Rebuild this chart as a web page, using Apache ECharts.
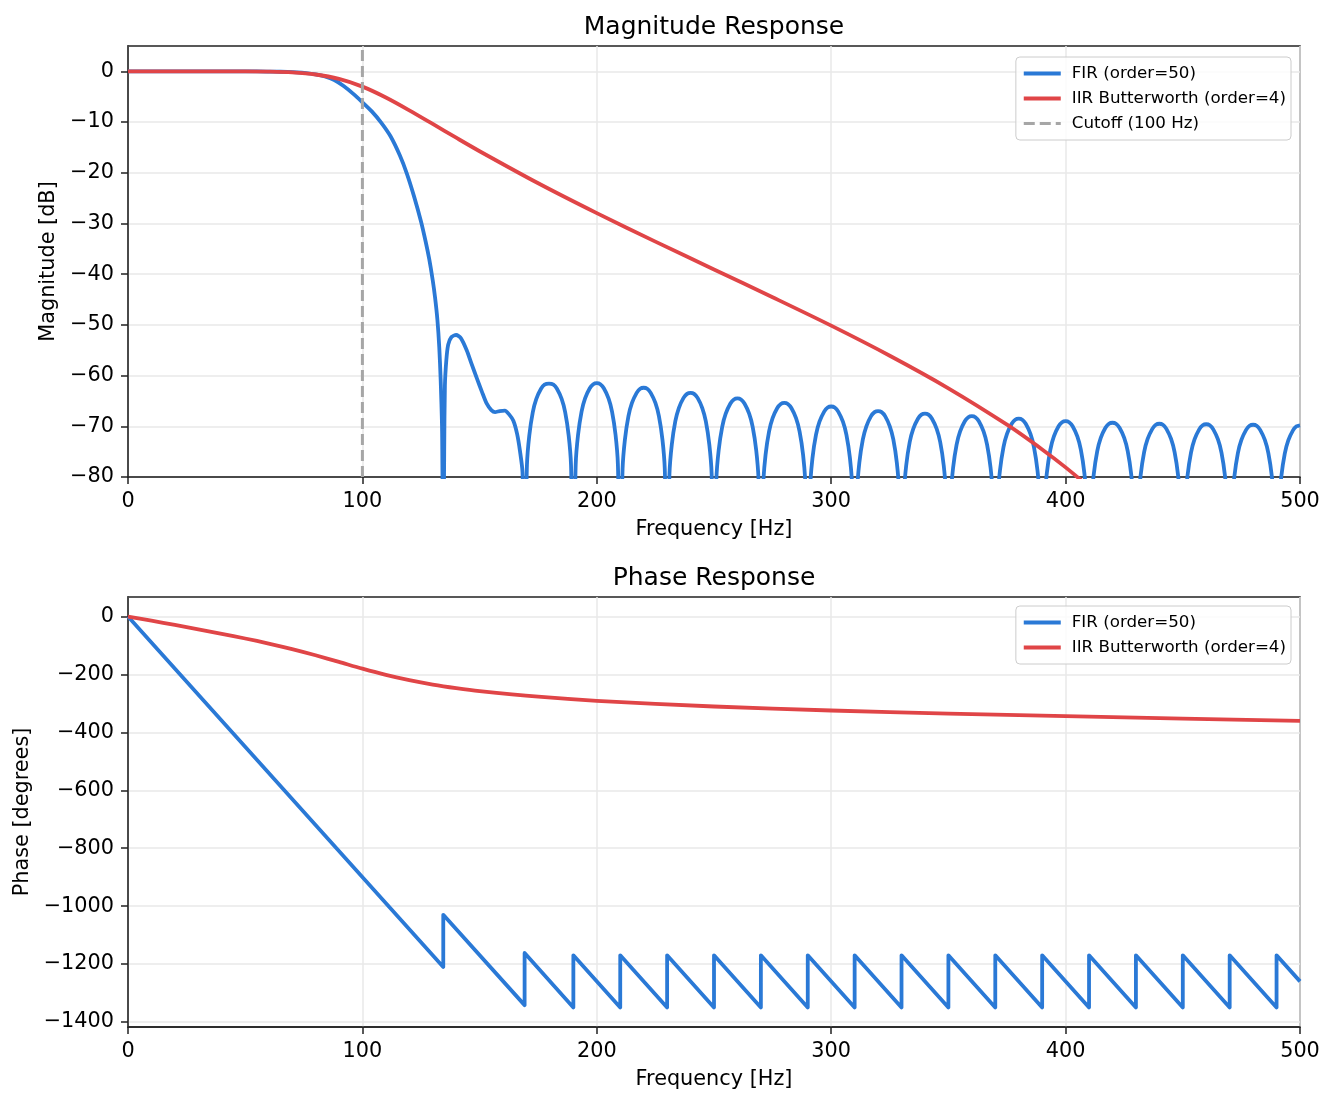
<!DOCTYPE html>
<html>
<head>
<meta charset="utf-8">
<title>Magnitude and Phase Response</title>
<script src="https://cdn.jsdelivr.net/npm/echarts@6/dist/echarts.min.js"></script>
<style>
  html, body { margin: 0; padding: 0; background: #fff; }
  #chart { width: 1334px; height: 1106px; }
</style>
</head>
<body>
<div id="chart"></div>
<script>
// tick values
const freqTicks = [0, 100, 200, 300, 400, 500];
const magTicks = [-80, -70, -60, -50, -40, -30, -20, -10, 0];
const phaseTicks = [-1400, -1200, -1000, -800, -600, -400, -200, 0];

const cutoffHz = 100;
const magLimits = [-80, 5];
const phaseLimits = [-1417.5, 67.5];

// FIR (order=50) magnitude, [Hz, dB] (nulls drop below the axis)
const firMag = [
  [0, 0], [20, 0], [40, 0], [55, 0], [62, -0.05], [68, -0.12], [72, -0.2], [76, -0.35], [80, -0.6],
  [84, -1.0], [88, -1.7], [92, -2.9], [96, -4.4], [100, -6.1], [104, -7.9], [108, -10.1], [112, -12.8],
  [116, -16.6], [119, -20.2], [122, -24.6], [125, -29.6], [127, -33.6], [128.5, -37], [130, -41.2],
  [131, -44.6], [132, -49], [132.8, -54.5], [133.4, -61], [134, -71], [134.5, -100],
  [134.9, -75], [135.2, -62], [135.8, -57], [136.6, -53.9], [138, -52.4], [140, -52], [142, -52.6],
  [144.5, -55], [146.5, -57.6], [148.8, -60.5], [151, -63.2], [153, -65.5], [155, -66.8], [156.6, -67.2],
  [158.5, -67], [160.8, -66.9], [162.5, -67.6], [164.4, -68.9], [166, -71.5], [167.2, -74.8], [168.3, -79],
  [169.2, -100],
  [170.2, -77.6], [171.2, -71.8], [172.7, -67.2], [174.2, -64.6], [176.2, -62.6], [177.7, -61.8], [179.6, -61.6],
  [181.5, -61.8], [183, -62.6], [185, -64.6], [186.5, -67.2], [188, -71.8], [189, -77.6], [190, -100],
  [191, -77.5], [192, -71.7], [193.5, -67.1], [195, -64.5], [197, -62.5], [198.5, -61.7], [200, -61.5],
  [201.5, -61.7], [203, -62.5], [205, -64.5], [206.5, -67.1], [208, -71.7], [209, -77.5], [210, -100],
  [211, -78.4], [212, -72.6], [213.5, -68.0], [215, -65.4], [217, -63.4], [218.5, -62.6], [220, -62.4],
  [221.5, -62.6], [223, -63.4], [225, -65.4], [226.5, -68.0], [228, -72.6], [229, -78.4], [230, -100],
  [231, -79.4], [232, -73.6], [233.5, -69.0], [235, -66.4], [237, -64.4], [238.5, -63.6], [240, -63.4],
  [241.5, -63.6], [243, -64.4], [245, -66.4], [246.5, -69.0], [248, -73.6], [249, -79.4], [250, -100],
  [251, -80.5], [252, -74.7], [253.5, -70.1], [255, -67.5], [257, -65.5], [258.5, -64.7], [260, -64.5],
  [261.5, -64.7], [263, -65.5], [265, -67.5], [266.5, -70.1], [268, -74.7], [269, -80.5], [270, -100],
  [271, -81.4], [272, -75.6], [273.5, -71.0], [275, -68.4], [277, -66.4], [278.5, -65.6], [280, -65.4],
  [281.5, -65.6], [283, -66.4], [285, -68.4], [286.5, -71.0], [288, -75.6], [289, -81.4], [290, -100],
  [291, -82.1], [292, -76.3], [293.5, -71.7], [295, -69.1], [297, -67.1], [298.5, -66.3], [300, -66.1],
  [301.5, -66.3], [303, -67.1], [305, -69.1], [306.5, -71.7], [308, -76.3], [309, -82.1], [310, -100],
  [311, -83], [312, -77.2], [313.5, -72.6], [315, -70], [317, -68], [318.5, -67.2], [320, -67],
  [321.5, -67.2], [323, -68], [325, -70], [326.5, -72.6], [328, -77.2], [329, -83], [330, -100],
  [331, -83.5], [332, -77.7], [333.5, -73.1], [335, -70.5], [337, -68.5], [338.5, -67.7], [340, -67.5],
  [341.5, -67.7], [343, -68.5], [345, -70.5], [346.5, -73.1], [348, -77.7], [349, -83.5], [350, -100],
  [351, -84], [352, -78.2], [353.5, -73.6], [355, -71], [357, -69], [358.5, -68.2], [360, -68],
  [361.5, -68.2], [363, -69], [365, -71], [366.5, -73.6], [368, -78.2], [369, -84], [370, -100],
  [371, -84.5], [372, -78.7], [373.5, -74.1], [375, -71.5], [377, -69.5], [378.5, -68.7], [380, -68.5],
  [381.5, -68.7], [383, -69.5], [385, -71.5], [386.5, -74.1], [388, -78.7], [389, -84.5], [390, -100],
  [391, -85], [392, -79.2], [393.5, -74.6], [395, -72], [397, -70], [398.5, -69.2], [400, -69],
  [401.5, -69.2], [403, -70], [405, -72], [406.5, -74.6], [408, -79.2], [409, -85], [410, -100],
  [411, -85.3], [412, -79.5], [413.5, -74.9], [415, -72.3], [417, -70.3], [418.5, -69.5], [420, -69.3],
  [421.5, -69.5], [423, -70.3], [425, -72.3], [426.5, -74.9], [428, -79.5], [429, -85.3], [430, -100],
  [431, -85.5], [432, -79.7], [433.5, -75.1], [435, -72.5], [437, -70.5], [438.5, -69.7], [440, -69.5],
  [441.5, -69.7], [443, -70.5], [445, -72.5], [446.5, -75.1], [448, -79.7], [449, -85.5], [450, -100],
  [451, -85.6], [452, -79.8], [453.5, -75.2], [455, -72.6], [457, -70.6], [458.5, -69.8], [460, -69.6],
  [461.5, -69.8], [463, -70.6], [465, -72.6], [466.5, -75.2], [468, -79.8], [469, -85.6], [470, -100],
  [471, -85.7], [472, -79.9], [473.5, -75.3], [475, -72.7], [477, -70.7], [478.5, -69.9], [480, -69.7],
  [481.5, -69.9], [483, -70.7], [485, -72.7], [486.5, -75.3], [488, -79.9], [489, -85.7], [490, -100],
  [491, -85.8], [492, -80], [493.5, -75.4], [495, -72.8], [497, -70.8], [498.5, -70.0], [500, -69.8]
];

// IIR Butterworth (order=4) magnitude, [Hz, dB]
const iirMag = [
  [0, 0], [25, 0], [50, -0.01], [60, -0.06], [70, -0.21], [80, -0.62], [90, -1.49], [100, -3.01],
  [110, -5.15], [120, -7.68], [130, -10.37], [140, -13.09], [150, -15.75], [175, -22.07], [200, -27.96],
  [225, -33.58], [250, -39.06], [275, -44.55], [300, -50.15], [325, -56.08], [350, -62.5], [375, -69.68],
  [390, -74.56], [400, -78.1], [410, -82.0], [420, -86.5]
];

// FIR phase, [Hz, degrees] - linear with +180 jumps at the stopband nulls
const firPhase = [
  [0, 0], [134.5, -1210], [134.5, -1030], [169.2, -1342], [169.2, -1162], [190, -1350], [190, -1170],
  [210, -1350], [210, -1170], [230, -1350], [230, -1170], [250, -1350], [250, -1170], [270, -1350],
  [270, -1170], [290, -1350], [290, -1170], [310, -1350], [310, -1170], [330, -1350], [330, -1170],
  [350, -1350], [350, -1170], [370, -1350], [370, -1170], [390, -1350], [390, -1170], [410, -1350],
  [410, -1170], [430, -1350], [430, -1170], [450, -1350], [450, -1170], [470, -1350], [470, -1170],
  [490, -1350], [490, -1170], [500, -1260]
];

// IIR phase, [Hz, degrees]
const iirPhase = [
  [0, 0], [10, -14.5], [20, -29.1], [30, -44.1], [40, -59.6], [50, -75.8], [60, -93.3], [70, -112.5],
  [80, -133.8], [90, -156.7], [100, -180], [110, -201.4], [120, -219.6], [130, -234.7], [140, -247],
  [150, -257.3], [175, -276.8], [200, -290.9], [250, -310.6], [300, -324.4], [350, -335.1], [400, -344.2],
  [450, -352.3], [500, -360]
];

const firName = 'FIR (order=50)';
const iirName = 'IIR Butterworth (order=4)';
const cutName = 'Cutoff (100 Hz)';

const blue = '#2a79d6';
const red = '#e04547';
const grey = '#a6a6a6';
const ink = '#222';
const fontFamily = 'DejaVu Sans';

const minus = (v) => String(v).replace('-', '\u2212');

const chart = echarts.init(document.getElementById('chart'));

function xAxisFor(gridIndex) {
  return {
    type: 'value',
    gridIndex: gridIndex,
    min: 0,
    max: 500,
    interval: 100,
    name: 'Frequency [Hz]',
    nameLocation: 'middle',
    nameGap: 42,
    nameTextStyle: { fontSize: 20.8, color: '#000', fontFamily: fontFamily },
    axisLine: { show: true, onZero: false, lineStyle: { color: ink, width: 1.5 } },
    axisTick: { show: true, length: 7, lineStyle: { color: ink, width: 1.5 }, customValues: freqTicks },
    axisLabel: { margin: 14, fontSize: 20.8, color: '#000', formatter: minus, customValues: freqTicks },
    splitLine: { show: true, lineStyle: { color: '#e9e9e9', width: 1.5 } },
  };
}

function yAxisFor(gridIndex, name, limits, ticks, nameGap, step) {
  return {
    type: 'value',
    gridIndex: gridIndex,
    min: limits[0],
    max: limits[1],
    minInterval: step,
    maxInterval: step,
    name: name,
    nameLocation: 'middle',
    nameGap: nameGap,
    nameTextStyle: { fontSize: 20.8, color: '#000', fontFamily: fontFamily },
    axisLine: { show: true, onZero: false, lineStyle: { color: ink, width: 1.5 } },
    axisTick: { show: true, length: 7, lineStyle: { color: ink, width: 1.5 }, customValues: ticks },
    axisLabel: { margin: 14, fontSize: 20.8, color: '#000', formatter: minus, customValues: ticks },
    splitLine: { show: true, lineStyle: { color: '#e9e9e9', width: 1.5 } },
  };
}

function legendItem(name, width) {
  return { name: name, lineStyle: { width: width }, itemStyle: { opacity: 0 } };
}

function legendAt(top, items) {
  return {
    orient: 'vertical',
    right: 43,
    top: top,
    data: items,
    itemWidth: 37,
    itemHeight: 14,
    itemGap: 8,
    padding: [8, 5, 8, 6],
    backgroundColor: 'rgba(255,255,255,0.8)',
    borderColor: '#cccccc',
    borderWidth: 1,
    borderRadius: 4,
    itemStyle: { opacity: 0 },
    textStyle: { fontSize: 16.7, color: '#000', fontFamily: fontFamily, lineHeight: 17, padding: [0, 0, 0, 6] },
    selectedMode: false,
  };
}

function lineSeries(name, data, color, xi, extra) {
  return Object.assign({
    name: name,
    type: 'line',
    xAxisIndex: xi,
    yAxisIndex: xi,
    data: data,
    symbol: 'none',
    showSymbol: false,
    clip: true,
    lineStyle: { color: color, width: 3.8, join: 'round', cap: 'butt' },
    itemStyle: { color: color },
    emphasis: { disabled: true },
  }, extra || {});
}

chart.setOption({
  animation: false,
  textStyle: { fontFamily: fontFamily },
  title: [
    {
      text: 'Magnitude Response', left: 714, top: 15, textAlign: 'center', padding: 0,
      textStyle: { fontSize: 25, fontWeight: 'normal', color: '#000', fontFamily: fontFamily },
    },
    {
      text: 'Phase Response', left: 714, top: 566, textAlign: 'center', padding: 0,
      textStyle: { fontSize: 25, fontWeight: 'normal', color: '#000', fontFamily: fontFamily },
    },
  ],
  legend: [
    legendAt(57, [legendItem(firName, 3.8), legendItem(iirName, 3.8), legendItem(cutName, 3)]),
    legendAt(606, [legendItem(firName, 3.8), legendItem(iirName, 3.8)]),
  ],
  grid: [
    { left: 128, right: 34, top: 46, height: 431, show: true, borderColor: ink, borderWidth: 1.5, backgroundColor: 'transparent' },
    { left: 128, right: 34, top: 597, height: 430, show: true, borderColor: ink, borderWidth: 1.5, backgroundColor: 'transparent' },
  ],
  xAxis: [xAxisFor(0), xAxisFor(1)],
  yAxis: [
    yAxisFor(0, 'Magnitude [dB]', magLimits, magTicks, 63, 10),
    yAxisFor(1, 'Phase [degrees]', phaseLimits, phaseTicks, 88, 200),
  ],
  series: [
    lineSeries(firName, firMag, blue, 0, { smooth: 0.25 }),
    lineSeries(iirName, iirMag, red, 0, { smooth: 0.3 }),
    lineSeries(cutName, [[cutoffHz, magLimits[0]], [cutoffHz, magLimits[1]]], grey, 0, {
      lineStyle: { color: grey, width: 3, type: [11, 5] },
    }),
    lineSeries(firName, firPhase, blue, 1),
    lineSeries(iirName, iirPhase, red, 1, { smooth: 0.3 }),
  ],
});
</script>
</body>
</html>
